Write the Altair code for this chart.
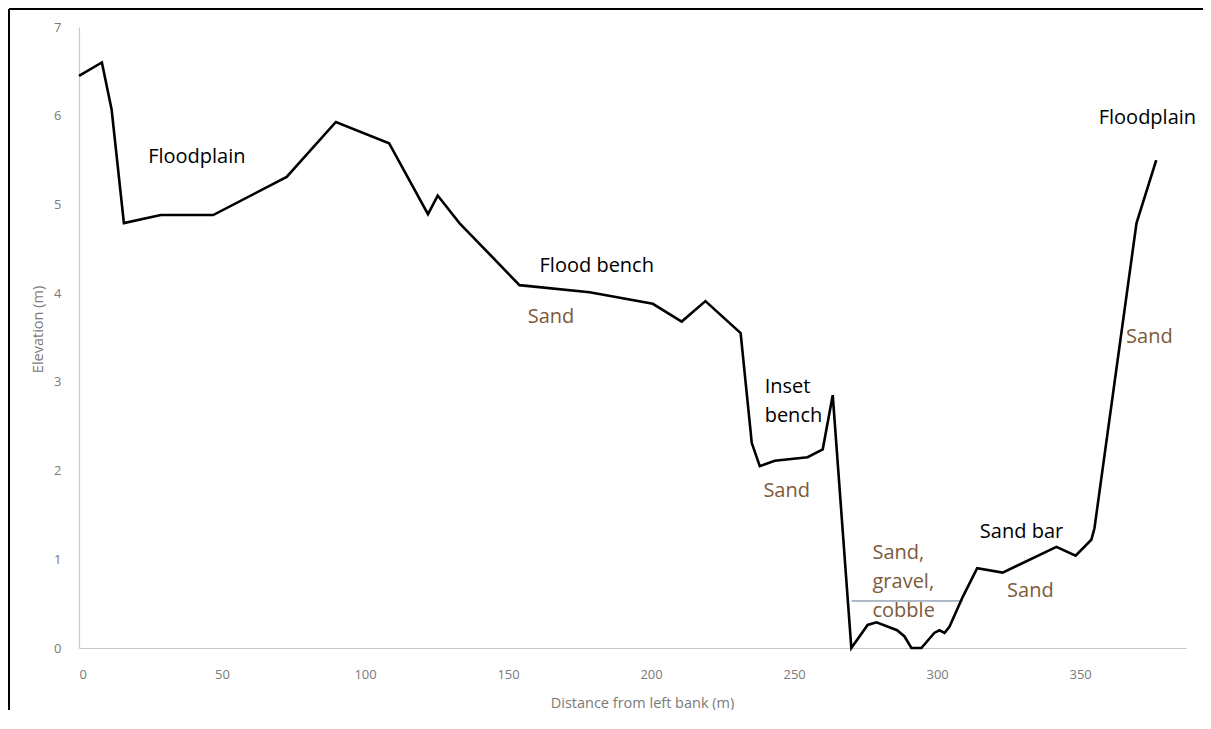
import altair as alt
import pandas as pd

# Cross-section profile
distance = [0, 8, 11.4, 15.7, 28.6, 46.9, 72.6, 89.8, 108.4, 122, 125.4, 133, 154, 178.5,
            200.6, 210.7, 219, 231.3, 235.2, 238, 243.2, 254.7, 260, 263.5, 270, 275.7,
            278.8, 286, 288.6, 291, 294.5, 299, 300.8, 302.6, 304.3, 309, 314, 322.9,
            341.7, 348.4, 353.9, 355, 369.7, 376.6]
elevation = [6.45, 6.6, 6.07, 4.79, 4.88, 4.88, 5.31, 5.93, 5.69, 4.89, 5.10, 4.79, 4.09, 4.01,
             3.88, 3.68, 3.91, 3.55, 2.31, 2.05, 2.11, 2.15, 2.24, 2.85, 0, 0.26,
             0.29, 0.2, 0.13, 0, 0, 0.17, 0.2, 0.17, 0.24, 0.58, 0.9, 0.85,
             1.14, 1.04, 1.22, 1.35, 4.79, 5.50]

# Water level line in channel
water_x = [270.1, 309]
water_y = [0.53, 0.53]

# Annotations
lab_text = ["Floodplain", "Flood bench", "Sand", "Inset", "bench", "Sand", "Sand,", "gravel,",
            "cobble", "Sand bar", "Sand", "Floodplain", "Sand"]
lab_x = [41.2, 181, 165, 239.7, 239.7, 247.4, 277.4, 277.4, 277.4, 329.5, 332.6, 373.5, 374.2]
lab_y = [5.54, 4.31, 3.73, 2.94, 2.62, 1.77, 1.07, 0.74, 0.42, 1.31, 0.64, 5.97, 3.51]
lab_kind = ["landform", "landform", "material", "landform", "landform", "material", "material",
            "material", "material", "landform", "material", "landform", "material"]
lab_align = ["center", "center", "center", "left", "left", "center", "left", "left", "left",
             "center", "center", "center", "center"]

BROWN = "#7d5a3a"
FONT = "Open Sans"

prof = pd.DataFrame({"d": distance, "e": elevation, "i": range(len(distance))})
water = pd.DataFrame({"d": water_x, "e": water_y})
labels = pd.DataFrame({"t": lab_text, "d": lab_x, "e": lab_y, "k": lab_kind, "a": lab_align})
labels["c"] = labels["k"].map({"landform": "black", "material": BROWN})

xs = alt.Scale(domain=[0, 387], nice=False, zero=False)
ys = alt.Scale(domain=[0, 7], nice=False)

xaxis = alt.Axis(values=[0, 50, 100, 150, 200, 250, 300, 350], grid=False, ticks=False,
                 domainColor="#c8c8c8", domainWidth=1.2, labelColor="#7a7a7a",
                 labelFont=FONT, labelFontSize=13, labelPadding=20, format="d",
                 title="Distance from left bank (m)", titleColor="#7a7a7a", titleFont=FONT,
                 titleFontSize=14.5, titleFontWeight="normal", titleX=563, titleY=55,
                 titleBaseline="middle")
yaxis = alt.Axis(values=[0, 1, 2, 3, 4, 5, 6, 7], grid=False, ticks=False,
                 domainColor="#c8c8c8", domainWidth=1.2, labelColor="#7a7a7a",
                 labelFont=FONT, labelFontSize=13, labelPadding=18, format="d",
                 title="Elevation (m)", titleColor="#7a7a7a", titleFont=FONT,
                 titleFontSize=14.5, titleFontWeight="normal", titleX=-41, titleY=302,
                 titleBaseline="middle", titleAngle=270)

line = alt.Chart(prof).mark_line(color="black", strokeWidth=2.6, strokeJoin="miter").encode(
    x=alt.X("d:Q", scale=xs, axis=xaxis),
    y=alt.Y("e:Q", scale=ys, axis=yaxis),
    order="i:Q",
)

wline = alt.Chart(water).mark_line(color="#5d7590", strokeWidth=1).encode(
    x=alt.X("d:Q", scale=xs), y=alt.Y("e:Q", scale=ys)
)

def text_layer(align):
    return alt.Chart(labels[labels["a"] == align]).mark_text(
        align=align, baseline="middle", font=FONT, fontSize=20
    ).encode(
        x=alt.X("d:Q", scale=xs), y=alt.Y("e:Q", scale=ys),
        text="t:N", color=alt.Color("c:N", scale=None),
    )

one = alt.Data(values=[{"a": 1}])
frame_top = alt.Chart(one).mark_rule(color="black", strokeWidth=2).encode(
    x=alt.value(-70), x2=alt.value(1140), y=alt.value(-18)
)
frame_left = alt.Chart(one).mark_rule(color="black", strokeWidth=2).encode(
    x=alt.value(-70), y=alt.value(-18), y2=alt.value(700)
)
edge_mask = alt.Chart(one).mark_rule(color="white", strokeWidth=3).encode(
    x=alt.value(1123), y=alt.value(-16), y2=alt.value(700)
)

chart = alt.layer(frame_top, frame_left, wline, line, text_layer("center"),
                  text_layer("left"), edge_mask).properties(
    width=1107, height=621,
    padding={"left": 71, "top": 19, "right": 17, "bottom": 62},
    autosize=alt.AutoSizeParams(type="none"),
).configure_view(stroke=None)

chart.save("out.html", embed_options={"renderer": "svg", "actions": False})
